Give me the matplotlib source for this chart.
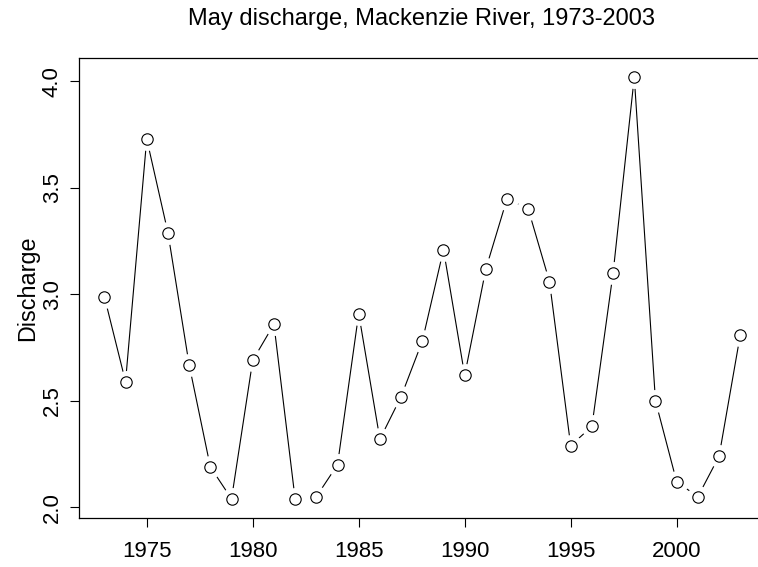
import matplotlib
matplotlib.use("Agg")
import matplotlib.pyplot as plt

# May discharge, Mackenzie River
years = list(range(1973, 2004))
discharge = [2.99, 2.59, 3.73, 3.29, 2.67, 2.19, 2.04, 2.69, 2.86, 2.04,
             2.05, 2.20, 2.91, 2.32, 2.52, 2.78, 3.21, 2.62, 3.12, 3.45,
             3.40, 3.06, 2.29, 2.38, 3.10, 4.02, 2.50, 2.12, 2.05, 2.24,
             2.81]
x_ticks = [1975, 1980, 1985, 1990, 1995, 2000]
y_ticks = [2.0, 2.5, 3.0, 3.5, 4.0]

plt.rcParams['font.family'] = ['Liberation Sans', 'DejaVu Sans']

W, H = 758, 567
fig = plt.figure(figsize=(W / 100, H / 100), dpi=100)
# plot region runs past the right edge of the picture (cropped R plot)
ax = fig.add_axes([78.9 / W, 1 - 518 / H, 686.8 / W, 460 / H])

# R type="b": lines broken around the points
ax.plot(years, discharge, color='black', lw=0.8, zorder=1)
ax.plot(years, discharge, ls='none', marker='o', ms=16.5,
        mfc='white', mec='none', zorder=2)
ax.plot(years, discharge, ls='none', marker='o', ms=8.2,
        mfc='white', mec='black', mew=0.8, zorder=3)

ax.set_xlim(1971.8, 2004.2)
ax.set_ylim(1.95, 4.11)
ax.set_xticks(x_ticks)
ax.set_yticks(y_ticks)
ax.set_yticklabels(['%.1f' % v for v in y_ticks], rotation=90, va='center')

for s in ax.spines.values():
    s.set_linewidth(0.9)
ax.tick_params(length=6.5, width=0.8, labelsize=16)
ax.tick_params(axis='x', pad=10)
ax.tick_params(axis='y', pad=5)

ax.set_ylabel('Discharge', fontsize=16.8, labelpad=2)
fig.text(422 / W, 1 - 25 / H, 'May discharge, Mackenzie River, 1973-2003',
         ha='center', va='baseline', fontsize=17)

fig.savefig('out.png', dpi=100)
